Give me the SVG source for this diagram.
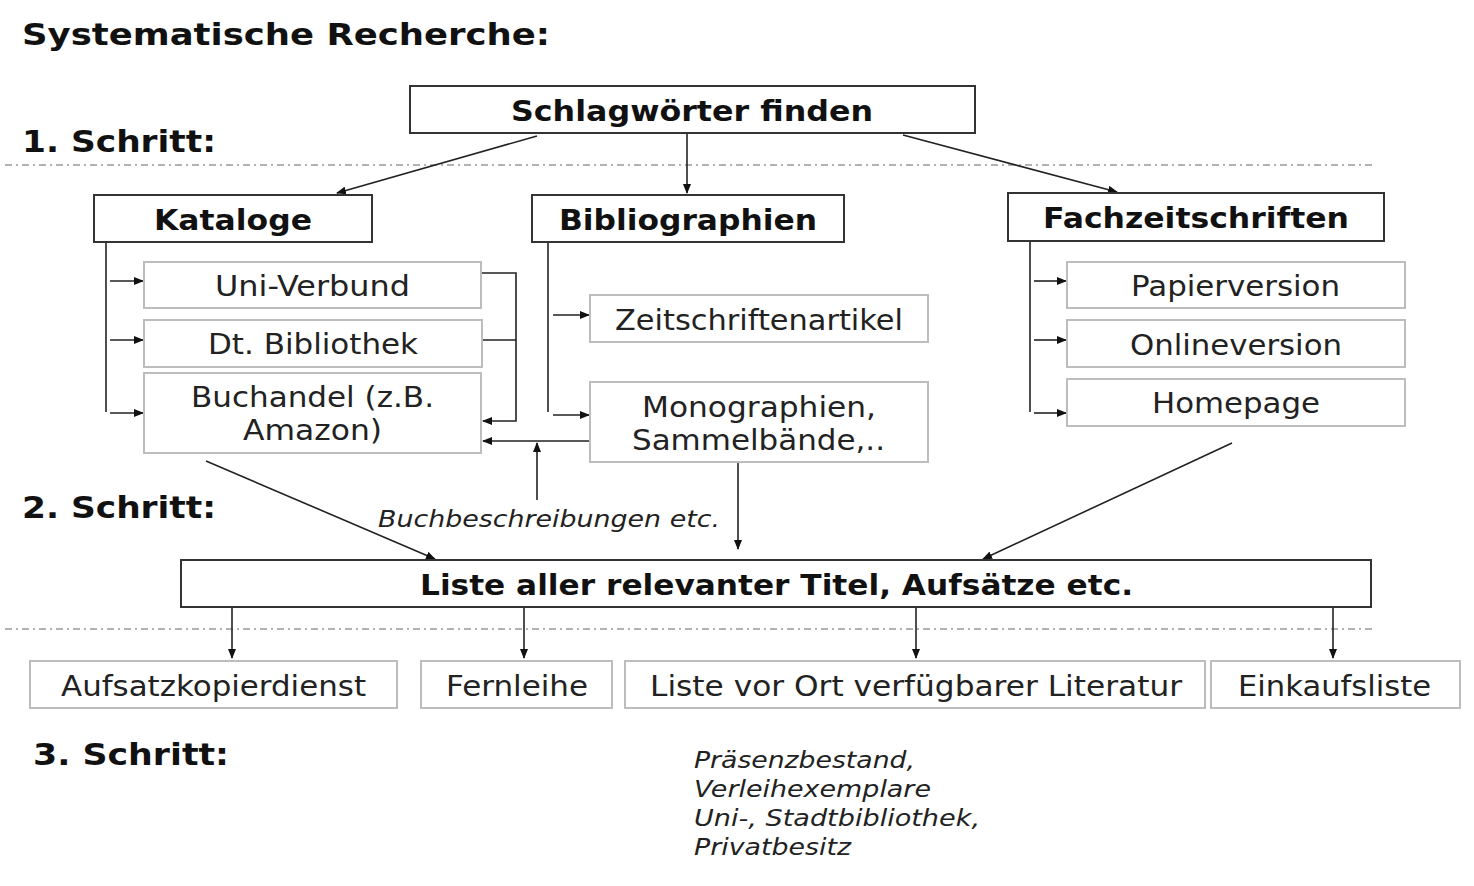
<svg xmlns="http://www.w3.org/2000/svg" width="1474" height="886" viewBox="0 0 1474 886">
<defs>
<marker id="ah" markerWidth="10" markerHeight="8" refX="9" refY="4" orient="auto" markerUnits="userSpaceOnUse">
<path d="M0,0 L10,4 L0,8 Z" fill="#111"/>
</marker>
<style>
.bx{fill:#fff;stroke:#333;stroke-width:2}
.sb{fill:#fff;stroke:#bdbdbd;stroke-width:2}
.bt{font-family:"DejaVu Sans",Verdana,sans-serif;font-weight:bold;font-size:28px;fill:#111;text-anchor:middle}
.rt{font-family:"DejaVu Sans",Verdana,sans-serif;font-size:28px;fill:#222;text-anchor:middle}
.st{font-family:"DejaVu Sans",Verdana,sans-serif;font-weight:bold;font-size:30px;fill:#111}
.it{font-family:"DejaVu Sans",Verdana,sans-serif;font-style:italic;font-size:23px;fill:#222}
.cn{fill:none;stroke:#222;stroke-width:1.6}
.dl{stroke:#999;stroke-width:1.5;stroke-dasharray:7 4 2 4}
</style>
</defs>
<rect width="1474" height="886" fill="#fff"/>
<g id="labels">
<text class="st" x="22" y="45" textLength="528" lengthAdjust="spacingAndGlyphs">Systematische Recherche:</text>
<text class="st" x="22" y="152" textLength="194" lengthAdjust="spacingAndGlyphs">1. Schritt:</text>
<text class="st" x="22" y="518" textLength="194" lengthAdjust="spacingAndGlyphs">2. Schritt:</text>
<text class="st" x="33" y="765" textLength="196" lengthAdjust="spacingAndGlyphs">3. Schritt:</text>
<line class="dl" x1="5" y1="165" x2="1375" y2="165"/>
<line class="dl" x1="5" y1="629" x2="1375" y2="629"/>
<text class="it" x="378" y="527" textLength="342" lengthAdjust="spacingAndGlyphs">Buchbeschreibungen etc.</text>
<text class="it" x="694" y="768" textLength="221" lengthAdjust="spacingAndGlyphs">Präsenzbestand,</text>
<text class="it" x="694" y="797" textLength="237" lengthAdjust="spacingAndGlyphs">Verleihexemplare</text>
<text class="it" x="694" y="826" textLength="286" lengthAdjust="spacingAndGlyphs">Uni-, Stadtbibliothek,</text>
<text class="it" x="694" y="855" textLength="157" lengthAdjust="spacingAndGlyphs">Privatbesitz</text>
</g>
<g id="connectors">
<line class="cn" x1="537" y1="136" x2="337" y2="193" marker-end="url(#ah)"/>
<line class="cn" x1="687" y1="134" x2="687" y2="193" marker-end="url(#ah)"/>
<line class="cn" x1="903" y1="135" x2="1117" y2="192" marker-end="url(#ah)"/>
<polyline class="cn" points="106,243 106,412"/>
<line class="cn" x1="110" y1="281" x2="143" y2="281" marker-end="url(#ah)"/>
<line class="cn" x1="110" y1="340" x2="143" y2="340" marker-end="url(#ah)"/>
<line class="cn" x1="110" y1="413" x2="143" y2="413" marker-end="url(#ah)"/>
<polyline class="cn" points="481,273 516,273 516,421 483,421" marker-end="url(#ah)"/>
<line class="cn" x1="482" y1="340" x2="516" y2="340"/>
<line class="cn" x1="590" y1="441" x2="483" y2="441" marker-end="url(#ah)"/>
<line class="cn" x1="537" y1="500" x2="537" y2="443" marker-end="url(#ah)"/>
<polyline class="cn" points="548,243 548,412"/>
<line class="cn" x1="553" y1="315" x2="589" y2="315" marker-end="url(#ah)"/>
<line class="cn" x1="553" y1="415" x2="589" y2="415" marker-end="url(#ah)"/>
<line class="cn" x1="738" y1="463" x2="738" y2="549" marker-end="url(#ah)"/>
<polyline class="cn" points="1030,242 1030,412"/>
<line class="cn" x1="1034" y1="281" x2="1066" y2="281" marker-end="url(#ah)"/>
<line class="cn" x1="1034" y1="340" x2="1066" y2="340" marker-end="url(#ah)"/>
<line class="cn" x1="1034" y1="413" x2="1066" y2="413" marker-end="url(#ah)"/>
<line class="cn" x1="206" y1="461" x2="435" y2="559" marker-end="url(#ah)"/>
<line class="cn" x1="1232" y1="443" x2="983" y2="559" marker-end="url(#ah)"/>
<line class="cn" x1="232" y1="608" x2="232" y2="658" marker-end="url(#ah)"/>
<line class="cn" x1="524" y1="608" x2="524" y2="658" marker-end="url(#ah)"/>
<line class="cn" x1="916" y1="608" x2="916" y2="658" marker-end="url(#ah)"/>
<line class="cn" x1="1333" y1="608" x2="1333" y2="658" marker-end="url(#ah)"/>
</g>
<g id="schlagwoerter"><rect class="bx" x="410" y="86" width="565" height="47"/><text class="bt" x="692" y="121" textLength="362" lengthAdjust="spacingAndGlyphs">Schlagwörter finden</text></g>
<g id="kataloge"><rect class="bx" x="94" y="195" width="278" height="47"/><text class="bt" x="233" y="230" textLength="158" lengthAdjust="spacingAndGlyphs">Kataloge</text></g>
<g id="bibliographien"><rect class="bx" x="532" y="195" width="312" height="47"/><text class="bt" x="688" y="230" textLength="258" lengthAdjust="spacingAndGlyphs">Bibliographien</text></g>
<g id="fachzeitschriften"><rect class="bx" x="1008" y="193" width="376" height="48"/><text class="bt" x="1196" y="228" textLength="306" lengthAdjust="spacingAndGlyphs">Fachzeitschriften</text></g>
<g id="univerbund"><rect class="sb" x="144" y="262" width="337" height="46"/><text class="rt" x="312.5" y="296" textLength="195" lengthAdjust="spacingAndGlyphs">Uni-Verbund</text></g>
<g id="dtbibliothek"><rect class="sb" x="144" y="320" width="338" height="47"/><text class="rt" x="313" y="354" textLength="210" lengthAdjust="spacingAndGlyphs">Dt. Bibliothek</text></g>
<g id="buchandel"><rect class="sb" x="144" y="373" width="337" height="80"/><text class="rt" x="312.5" y="407" textLength="243" lengthAdjust="spacingAndGlyphs">Buchandel (z.B.</text><text class="rt" x="312.5" y="440" textLength="139" lengthAdjust="spacingAndGlyphs">Amazon)</text></g>
<g id="zeitschriftenartikel"><rect class="sb" x="590" y="295" width="338" height="47"/><text class="rt" x="759" y="330" textLength="288" lengthAdjust="spacingAndGlyphs">Zeitschriftenartikel</text></g>
<g id="monographien"><rect class="sb" x="590" y="382" width="338" height="80"/><text class="rt" x="759" y="417" textLength="234" lengthAdjust="spacingAndGlyphs">Monographien,</text><text class="rt" x="758.5" y="450" textLength="253" lengthAdjust="spacingAndGlyphs">Sammelbände,..</text></g>
<g id="papierversion"><rect class="sb" x="1067" y="262" width="338" height="46"/><text class="rt" x="1235.5" y="296" textLength="209" lengthAdjust="spacingAndGlyphs">Papierversion</text></g>
<g id="onlineversion"><rect class="sb" x="1067" y="320" width="338" height="47"/><text class="rt" x="1236" y="355" textLength="212" lengthAdjust="spacingAndGlyphs">Onlineversion</text></g>
<g id="homepage"><rect class="sb" x="1067" y="379" width="338" height="47"/><text class="rt" x="1236" y="413" textLength="168" lengthAdjust="spacingAndGlyphs">Homepage</text></g>
<g id="liste"><rect class="bx" x="181" y="560" width="1190" height="47"/><text class="bt" x="776.5" y="595" textLength="713" lengthAdjust="spacingAndGlyphs">Liste aller relevanter Titel, Aufsätze etc.</text></g>
<g id="aufsatzkopierdienst"><rect class="sb" x="30" y="661" width="367" height="47"/><text class="rt" x="213.5" y="696" textLength="305" lengthAdjust="spacingAndGlyphs">Aufsatzkopierdienst</text></g>
<g id="fernleihe"><rect class="sb" x="421" y="661" width="191" height="47"/><text class="rt" x="517" y="696" textLength="142" lengthAdjust="spacingAndGlyphs">Fernleihe</text></g>
<g id="listevorort"><rect class="sb" x="625" y="661" width="580" height="47"/><text class="rt" x="916" y="696" textLength="532" lengthAdjust="spacingAndGlyphs">Liste vor Ort verfügbarer Literatur</text></g>
<g id="einkaufsliste"><rect class="sb" x="1211" y="661" width="249" height="47"/><text class="rt" x="1334.5" y="696" textLength="193" lengthAdjust="spacingAndGlyphs">Einkaufsliste</text></g>
</svg>
